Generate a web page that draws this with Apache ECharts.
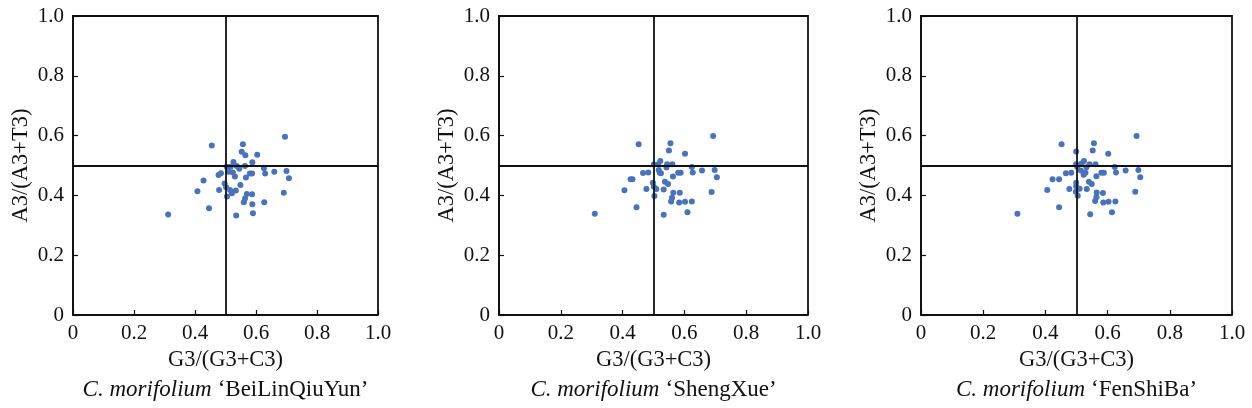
<!DOCTYPE html>
<html>
<head>
<meta charset="utf-8">
<script src="https://cdn.jsdelivr.net/npm/echarts@6/dist/echarts.min.js"></script>
<style>
  html, body { margin: 0; padding: 0; background: #fff; }
  #chart { width: 1252px; height: 408px; }
</style>
</head>
<body>
<div id="chart"></div>
<script>
// 品种名称
const cultivars = ['BeiLinQiuYun', 'ShengXue', 'FenShiBa'];
const xTickLabels = ['0', '0.2', '0.4', '0.6', '0.8', '1.0'];
const yTickLabels = ['0', '0.2', '0.4', '0.6', '0.8', '1.0'];

// G3/(G3+C3), A3/(A3+T3)
const beiLinQiuYun = [
  [0.695, 0.596], [0.455, 0.567], [0.557, 0.571], [0.553, 0.546], [0.565, 0.534],
  [0.604, 0.536], [0.588, 0.511], [0.526, 0.512], [0.504, 0.496], [0.517, 0.496],
  [0.537, 0.498], [0.545, 0.489], [0.564, 0.498], [0.626, 0.491], [0.660, 0.479],
  [0.700, 0.482], [0.708, 0.457], [0.630, 0.473], [0.580, 0.473], [0.587, 0.473],
  [0.567, 0.460], [0.524, 0.477], [0.531, 0.463], [0.485, 0.474], [0.477, 0.468],
  [0.428, 0.450], [0.497, 0.440], [0.502, 0.427], [0.515, 0.418], [0.549, 0.435],
  [0.534, 0.416], [0.521, 0.407], [0.479, 0.418], [0.408, 0.414], [0.505, 0.396],
  [0.570, 0.405], [0.587, 0.404], [0.564, 0.390], [0.560, 0.377], [0.588, 0.370],
  [0.627, 0.377], [0.691, 0.409], [0.446, 0.357], [0.312, 0.336], [0.535, 0.333],
  [0.590, 0.340], [0.510, 0.479]
];
const shengXue = [
  [0.693, 0.599], [0.452, 0.571], [0.555, 0.574], [0.550, 0.550], [0.602, 0.539],
  [0.522, 0.515], [0.501, 0.503], [0.515, 0.504], [0.544, 0.504], [0.561, 0.504],
  [0.542, 0.493], [0.624, 0.495], [0.698, 0.485], [0.657, 0.483], [0.705, 0.461],
  [0.627, 0.477], [0.580, 0.476], [0.588, 0.476], [0.563, 0.463], [0.517, 0.485],
  [0.524, 0.474], [0.483, 0.477], [0.466, 0.475], [0.426, 0.454], [0.432, 0.454],
  [0.498, 0.442], [0.537, 0.446], [0.547, 0.438], [0.501, 0.429], [0.509, 0.421],
  [0.533, 0.420], [0.477, 0.421], [0.406, 0.417], [0.503, 0.398], [0.564, 0.409],
  [0.585, 0.409], [0.560, 0.392], [0.557, 0.380], [0.583, 0.376], [0.602, 0.379],
  [0.624, 0.380], [0.688, 0.411], [0.445, 0.360], [0.310, 0.339], [0.533, 0.335],
  [0.610, 0.344], [0.520, 0.476]
];
const fenShiBa = [
  [0.693, 0.599], [0.452, 0.571], [0.556, 0.574], [0.499, 0.547], [0.552, 0.550],
  [0.602, 0.539], [0.524, 0.515], [0.499, 0.504], [0.516, 0.507], [0.542, 0.504],
  [0.561, 0.504], [0.532, 0.494], [0.502, 0.496], [0.623, 0.495], [0.699, 0.485],
  [0.658, 0.483], [0.705, 0.461], [0.627, 0.477], [0.580, 0.476], [0.588, 0.476],
  [0.564, 0.464], [0.514, 0.483], [0.529, 0.476], [0.523, 0.469], [0.483, 0.476],
  [0.466, 0.474], [0.423, 0.454], [0.444, 0.454], [0.499, 0.442], [0.540, 0.446],
  [0.549, 0.438], [0.499, 0.431], [0.510, 0.422], [0.533, 0.421], [0.477, 0.421],
  [0.406, 0.418], [0.498, 0.412], [0.504, 0.399], [0.565, 0.410], [0.585, 0.408],
  [0.564, 0.394], [0.560, 0.381], [0.586, 0.376], [0.603, 0.379], [0.625, 0.380],
  [0.689, 0.412], [0.444, 0.360], [0.310, 0.339], [0.544, 0.337], [0.614, 0.344]
];
const panelData = [beiLinQiuYun, shengXue, fenShiBa];

const FONT = '"Liberation Serif", "DejaVu Serif", serif';
const grids = [
  { left: 73, width: 305 },
  { left: 499, width: 309 },
  { left: 921, width: 311 }
];

const tickLabel = (labels) => (v) => labels[Math.round(v / 0.2)] || '';

const option = {
  animation: false,
  textStyle: { fontFamily: FONT },
  grid: grids.map((g) => ({ left: g.left, width: g.width, top: 16, bottom: 93 })),
  xAxis: grids.map((g, i) => ({
    gridIndex: i,
    type: 'value',
    min: 0,
    max: 1,
    interval: 0.2,
    name: 'G3/(G3+C3)',
    nameLocation: 'middle',
    nameGap: 31,
    nameTextStyle: { fontFamily: FONT, fontSize: 22.5, color: '#111' },
    axisLine: { show: true, onZero: false, lineStyle: { color: '#111', width: 1.8 } },
    axisTick: { show: true, inside: true, length: 5, lineStyle: { color: '#111', width: 1.2 } },
    axisLabel: { fontFamily: FONT, fontSize: 21, color: '#111', margin: 8, formatter: tickLabel(xTickLabels) },
    splitLine: { show: false }
  })),
  yAxis: grids.map((g, i) => ({
    gridIndex: i,
    type: 'value',
    min: 0,
    max: 1,
    interval: 0.2,
    name: 'A3/(A3+T3)',
    nameLocation: 'middle',
    nameGap: 40,
    nameTextStyle: { fontFamily: FONT, fontSize: 22.5, color: '#111' },
    axisLine: { show: true, onZero: false, lineStyle: { color: '#111', width: 1.8 } },
    axisTick: { show: true, inside: true, length: 5, lineStyle: { color: '#111', width: 1.2 } },
    axisLabel: { fontFamily: FONT, fontSize: 21, color: '#111', margin: 9, formatter: tickLabel(yTickLabels) },
    splitLine: { show: false }
  })),
  series: panelData.map((d, i) => ({
    type: 'scatter',
    xAxisIndex: i,
    yAxisIndex: i,
    data: d,
    symbolSize: 6,
    itemStyle: { color: '#4A72B8', opacity: 1 },
    markLine: {
      silent: true,
      symbol: 'none',
      label: { show: false },
      lineStyle: { color: '#111', width: 1.8, type: 'solid' },
      data: [{ xAxis: 0.5 }, { yAxis: 0.5 }]
    }
  })),
  graphic: []
};

// 上/右边框
grids.forEach((g) => {
  option.graphic.push({
    type: 'polyline',
    silent: true,
    shape: { points: [[g.left, 315], [g.left, 16], [g.left + g.width, 16], [g.left + g.width, 315]] },
    style: { stroke: '#111', lineWidth: 1.8, fill: null }
  });
});

// 品种标题: 斜体学名 + 正体品种名
grids.forEach((g, i) => {
  option.graphic.push({
    type: 'text',
    silent: true,
    x: g.left + g.width / 2,
    y: 390,
    style: {
      text: '{it|C. morifolium}{sp| }{rm|\u2018' + cultivars[i] + '\u2019}',
      align: 'center',
      verticalAlign: 'middle',
      rich: {
        it: { fontFamily: FONT, fontSize: 23, fontStyle: 'italic', fill: '#111' },
        sp: { fontFamily: FONT, fontSize: 23, width: 6 },
        rm: { fontFamily: FONT, fontSize: 23, fill: '#111' }
      }
    }
  });
});

const chart = echarts.init(document.getElementById('chart'));
chart.setOption(option);
</script>
</body>
</html>
